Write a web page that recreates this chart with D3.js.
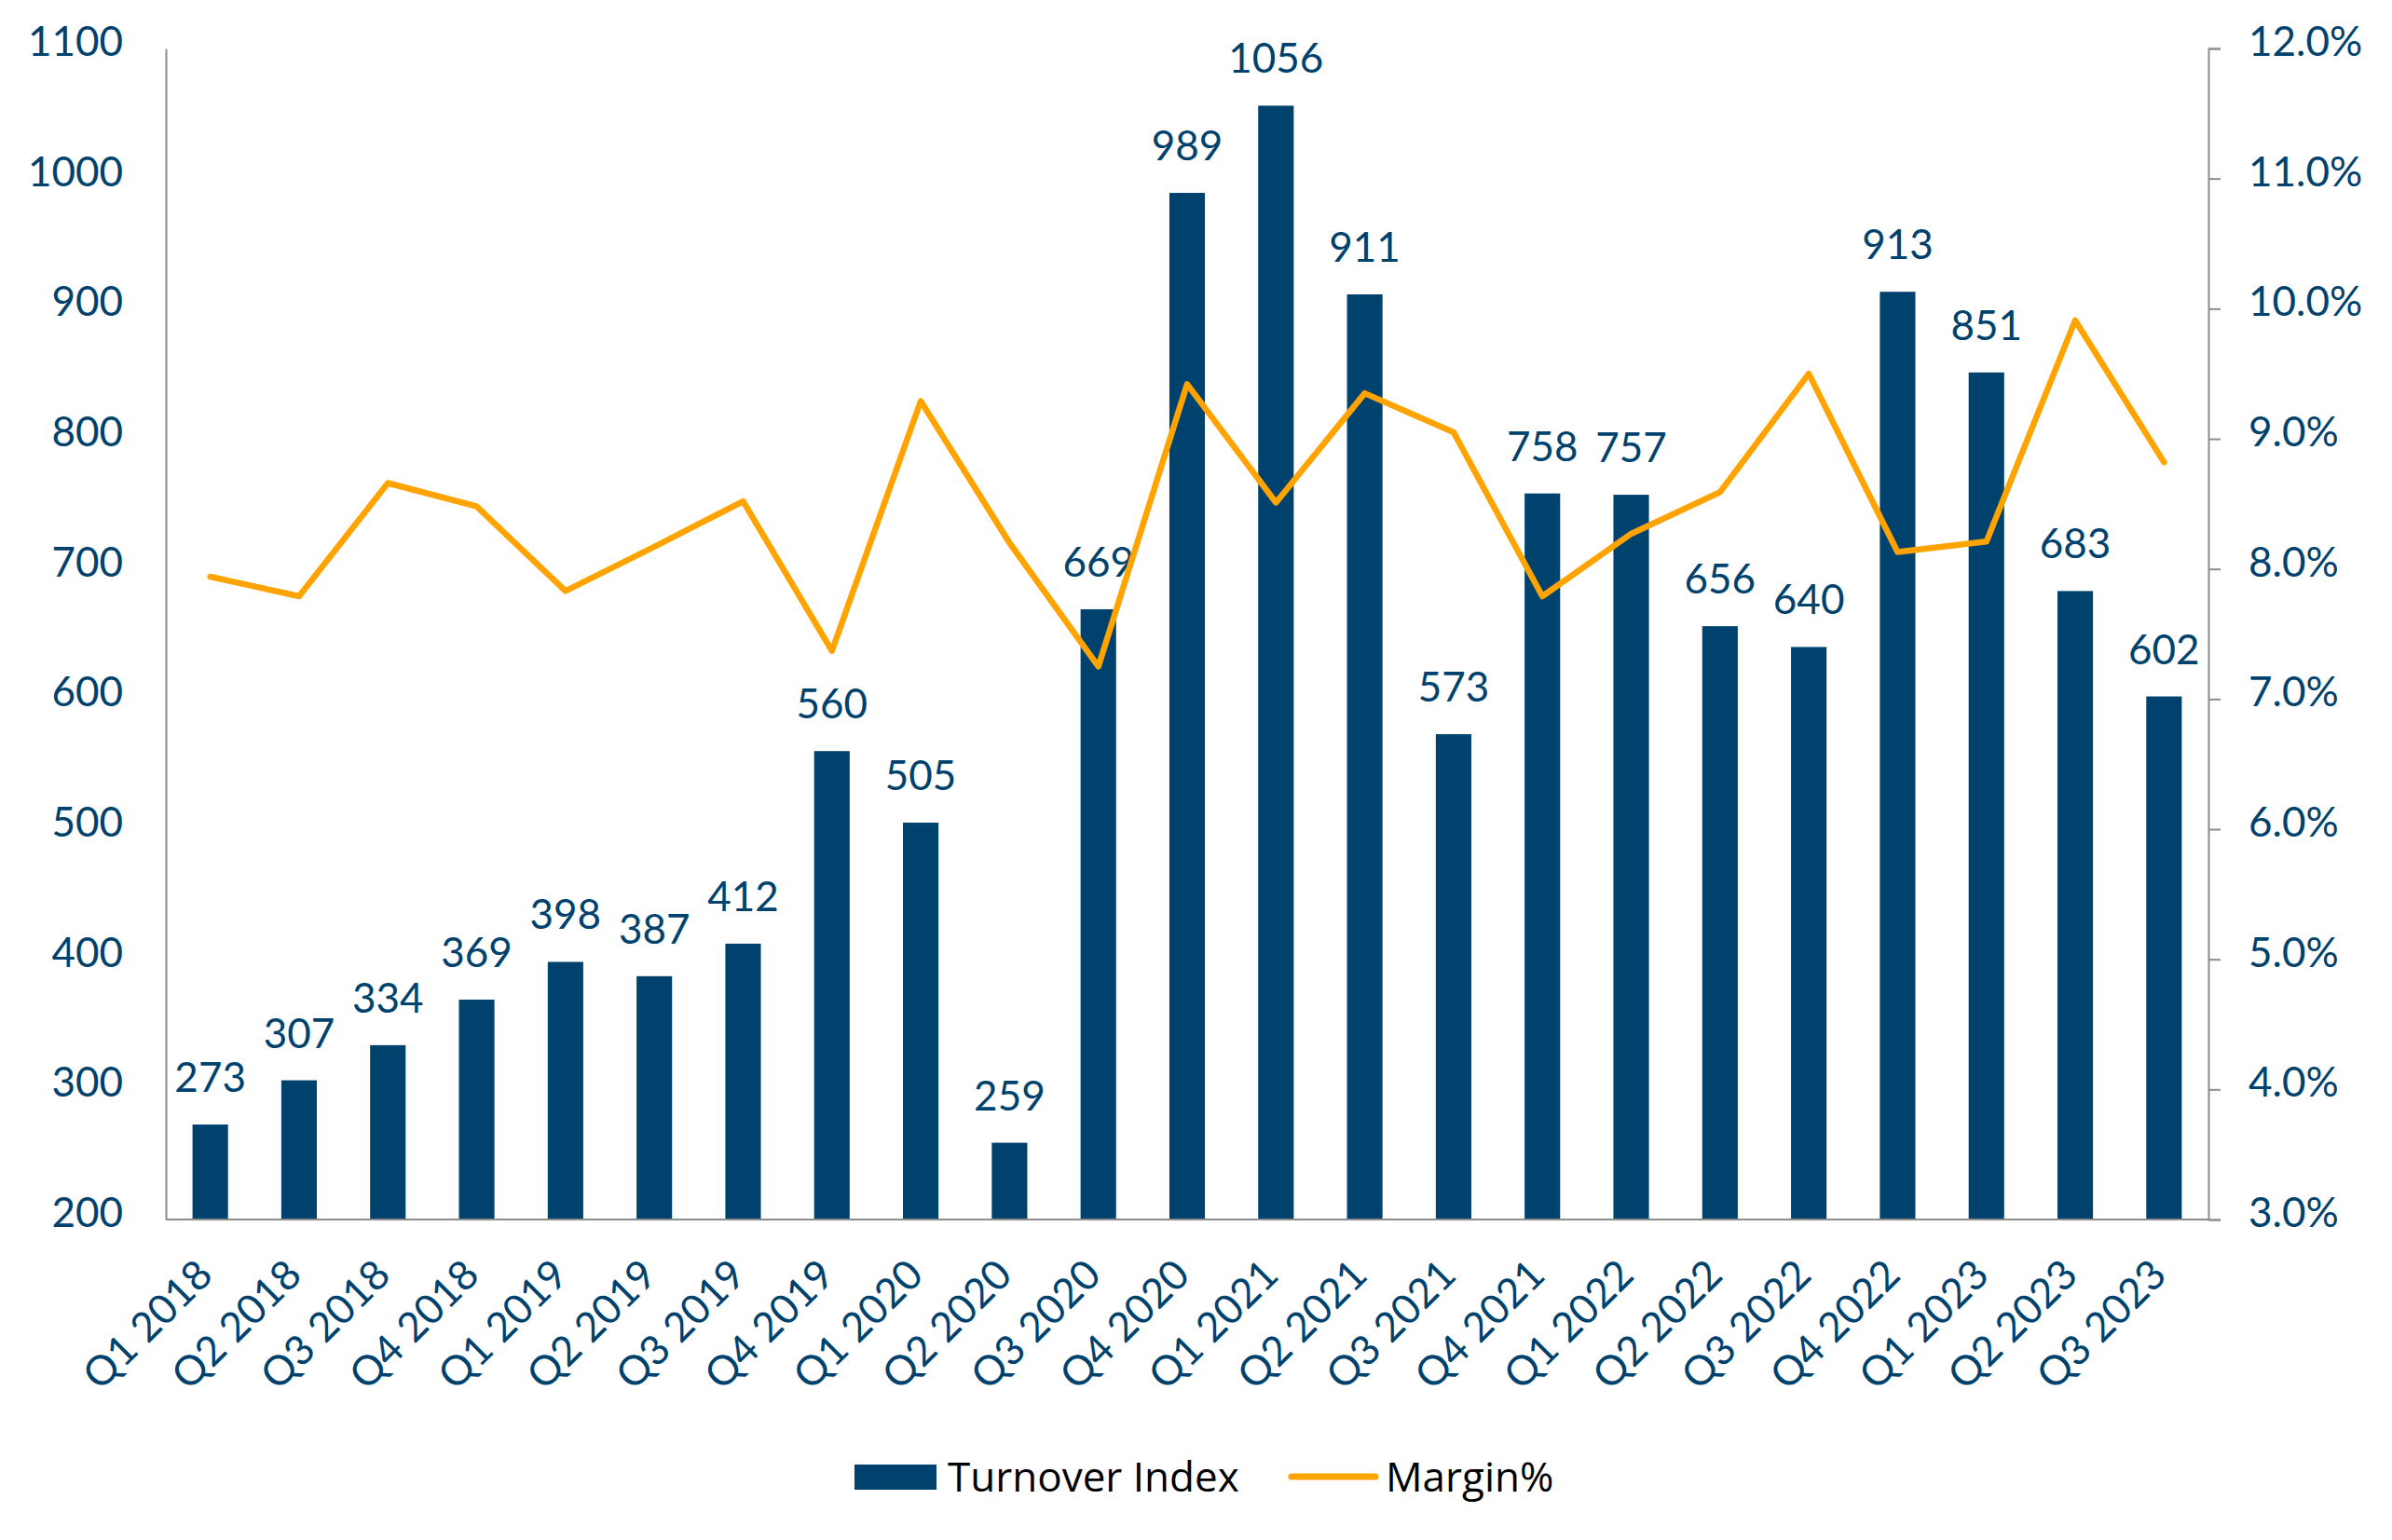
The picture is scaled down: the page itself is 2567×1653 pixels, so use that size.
<!DOCTYPE html>
<html>
<head>
<meta charset="utf-8">
<script src="https://cdn.jsdelivr.net/npm/d3@7"></script>
<style>
  body { margin: 0; background: #fff; }
  .tick text, .lbl { font-family: Lato, sans-serif; fill: #00426e; }
</style>
</head>
<body>
<div class="chart"></div>
<script>
const quarters = ["Q1 2018","Q2 2018","Q3 2018","Q4 2018","Q1 2019","Q2 2019","Q3 2019","Q4 2019",
  "Q1 2020","Q2 2020","Q3 2020","Q4 2020","Q1 2021","Q2 2021","Q3 2021","Q4 2021",
  "Q1 2022","Q2 2022","Q3 2022","Q4 2022","Q1 2023","Q2 2023","Q3 2023"];
const turnover = [273,307,334,369,398,387,412,560,505,259,669,989,1056,911,573,758,757,656,640,913,851,683,602];
// margin, in %
const margin = [7.94,7.79,8.66,8.48,7.83,8.17,8.52,7.37,9.29,8.20,7.25,9.42,8.51,9.35,9.05,7.79,8.27,8.59,9.50,8.13,8.21,9.91,8.82];
const leftTicks = [200,300,400,500,600,700,800,900,1000,1100];
const rightTicks = [3,4,5,6,7,8,9,10,11,12];

const W = 2567, H = 1653;
const plotL = 178, plotR = 2370, plotT = 52, plotB = 1309;
const navy = "#00426e", orange = "#ffa300", grey = "#8c8c8c";

const svg = d3.select('.chart').append('svg')
  .attr('width', W).attr('height', H)
  .attr('viewBox', [0,0,W,H]);

const x = d3.scaleBand().domain(quarters).range([plotL, plotR]).paddingInner(0.6).paddingOuter(0.3);
const y = d3.scaleLinear().domain([200,1100]).range([plotB, plotT]);
const y2 = d3.scaleLinear().domain([3,12]).range([plotB, plotT]);

// bars
svg.selectAll('.bar')
  .data(quarters)
  .join('rect')
  .attr('class','bar')
  .attr('x', d => x(d))
  .attr('width', x.bandwidth())
  .attr('y', (d,i) => y(turnover[i]))
  .attr('height', (d,i) => plotB - y(turnover[i]))
  .attr('fill', navy);

// value labels
svg.selectAll('.lbl')
  .data(quarters)
  .join('text')
  .attr('class','lbl')
  .attr('x', d => x(d) + x.bandwidth()/2)
  .attr('y', (d,i) => y(turnover[i]) - 35)
  .attr('text-anchor','middle')
  .style('font-size','44px')
  .text((d,i) => turnover[i]);

// margin line
const line = d3.line()
  .x((d,i) => x(quarters[i]) + x.bandwidth()/2)
  .y(d => y2(d));
svg.append('path')
  .datum(margin)
  .attr('d', line)
  .attr('fill','none')
  .attr('stroke', orange)
  .attr('stroke-width', 6.5)
  .attr('stroke-linejoin','round')
  .attr('stroke-linecap','round');

// left axis (no ticks)
const yAxis = svg.append('g')
  .attr('transform', `translate(${plotL},0)`)
  .call(d3.axisLeft(y).tickValues(leftTicks).tickSize(0).tickPadding(46).tickFormat(d3.format('d')));
yAxis.select('.domain').attr('stroke', grey).attr('stroke-width', 2);
yAxis.selectAll('text').style('font-size','44px').attr('dy','0.17em');

// right axis with outward ticks
const yAxis2 = svg.append('g')
  .attr('transform', `translate(${plotR},0)`)
  .call(d3.axisRight(y2).tickValues(rightTicks).tickSizeInner(13).tickSizeOuter(13).tickPadding(30)
    .tickFormat(d => d.toFixed(1) + '%'));
yAxis2.select('.domain').attr('stroke', grey).attr('stroke-width', 2);
yAxis2.selectAll('line').attr('stroke', grey).attr('stroke-width', 2);
yAxis2.selectAll('text').style('font-size','44px').attr('dy','0.17em');

// bottom axis, rotated labels
const xAxis = svg.append('g')
  .attr('transform', `translate(0,${plotB})`)
  .call(d3.axisBottom(x).tickSize(0).tickSizeOuter(0));
xAxis.select('.domain').attr('stroke', grey).attr('stroke-width', 2)
  .attr('d', `M${plotL},0H${plotR}`);
xAxis.selectAll('text')
  .style('font-size','44px')
  .attr('text-anchor','end')
  .attr('dy', 0)
  .attr('y', 0)
  .attr('transform', 'translate(5,62) rotate(-45)');

// legend
const lg = svg.append('g').style('font-family','"Open Sans", sans-serif').style('font-size','44px');
lg.append('rect').attr('x',917).attr('y',1572).attr('width',88).attr('height',27).attr('fill',navy);
lg.append('text').attr('x',1017).attr('y',1601).attr('fill','#000').text('Turnover Index');
lg.append('line').attr('x1',1386).attr('x2',1476).attr('y1',1585).attr('y2',1585)
  .attr('stroke',orange).attr('stroke-width',7).attr('stroke-linecap','round');
lg.append('text').attr('x',1487).attr('y',1601).attr('fill','#000').text('Margin%');
</script>
</body>
</html>
